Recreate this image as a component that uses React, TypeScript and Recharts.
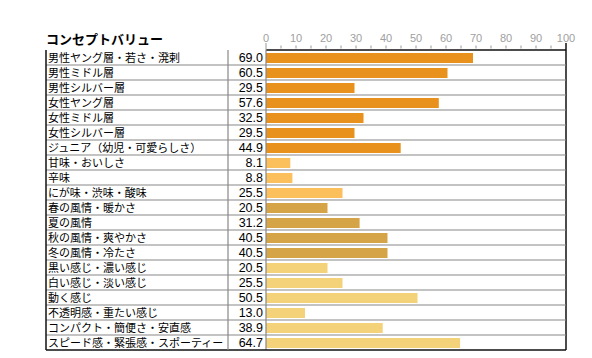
import React from "react";
import { BarChart, Bar, XAxis, YAxis, Cell, ReferenceLine } from "recharts";

const labels = [
  "男性ヤング層・若さ・溌剌",
  "男性ミドル層",
  "男性シルバー層",
  "女性ヤング層",
  "女性ミドル層",
  "女性シルバー層",
  "ジュニア（幼児・可愛らしさ）",
  "甘味・おいしさ",
  "辛味",
  "にが味・渋味・酸味",
  "春の風情・暖かさ",
  "夏の風情",
  "秋の風情・爽やかさ",
  "冬の風情・冷たさ",
  "黒い感じ・濃い感じ",
  "白い感じ・淡い感じ",
  "動く感じ",
  "不透明感・重たい感じ",
  "コンパクト・簡便さ・安直感",
  "スピード感・緊張感・スポーティー",
];
const values = [69.0, 60.5, 29.5, 57.6, 32.5, 29.5, 44.9, 8.1, 8.8, 25.5, 20.5, 31.2, 40.5, 40.5, 20.5, 25.5, 50.5, 13.0, 38.9, 64.7];
const groups = [0, 0, 0, 0, 0, 0, 0, 1, 1, 1, 2, 2, 2, 2, 3, 3, 3, 3, 3, 3];
const groupColors = ["#E8911C", "#FBBF5C", "#D4A446", "#F3D279"];
const xTicks = [0, 5, 10, 15, 20, 25, 30, 35, 40, 45, 50, 55, 60, 65, 70, 75, 80, 85, 90, 95, 100];
const title = "コンセプトバリュー";

const data = labels.map((name, i) => ({ name, value: values[i], group: groups[i] }));

const W = 592;
const H = 358;
const MARGIN = { top: 22, right: 34, bottom: 16, left: 38 };
const Y_W = 220;
const X_H = 20;
const PLOT_H = H - MARGIN.top - MARGIN.bottom - X_H;
const PLOT_W = W - MARGIN.left - MARGIN.right - Y_W;
const ROW_H = PLOT_H / labels.length;
const VAL_COL = 38;
const FONT = "'Noto Sans CJK JP', 'Noto Sans', sans-serif";
const NUM_FONT = "'Liberation Sans', Arial, sans-serif";

const YTick = (props: any) => {
  const { x, y, payload, index } = props;
  const top = y - ROW_H / 2;
  const bottom = y + ROW_H / 2;
  const left = x - Y_W;
  const last = index === labels.length - 1;
  return (
    <g>
      <line x1={left} x2={x + PLOT_W} y1={bottom} y2={bottom} stroke={last ? "#111" : "#888"} strokeWidth={last ? 1.5 : 1.2} />
      <line x1={left} x2={left} y1={top} y2={bottom} stroke="#111" strokeWidth={1.5} />
      <line x1={x - VAL_COL} x2={x - VAL_COL} y1={top} y2={bottom} stroke="#888" strokeWidth={1.2} />
      <text x={left + 2} y={y + 4} fontSize={11} fill="#000" fontFamily={FONT}>
        {payload.value}
      </text>
      <text x={x - 3} y={y + 4.5} fontSize={12.5} fill="#000" textAnchor="end" fontFamily={NUM_FONT}>
        {values[index].toFixed(1)}
      </text>
    </g>
  );
};

const XTick = (props: any) => {
  const { x, y, payload } = props;
  const v = payload.value;
  const major = v % 10 === 0;
  const edge = v === 0 || v === 100;
  return (
    <g>
      {!edge && <line x1={x} x2={x} y1={y - 4.5} y2={y - 1.5} stroke="#999" strokeWidth={1} />}
      {edge && <line x1={x} x2={x} y1={y - 7} y2={y} stroke={v === 0 ? "#999" : "#111"} strokeWidth={v === 0 ? 1 : 1.5} />}
      {major && (
        <text x={x} y={y - 8} fontSize={11} fill="#a0a0a0" textAnchor="middle" fontFamily={NUM_FONT}>
          {v}
        </text>
      )}
    </g>
  );
};

export default function App() {
  return (
    <div style={{ position: "relative", width: W, height: H }}>
      <div
        style={{
          position: "absolute",
          left: MARGIN.left,
          top: 24,
          fontSize: 13,
          fontWeight: "bold",
          lineHeight: "14px",
          fontFamily: FONT,
          color: "#000",
        }}
      >
        {title}
      </div>
      <BarChart width={W} height={H} data={data} layout="vertical" margin={MARGIN} barSize={10}>
        <XAxis
          type="number"
          orientation="top"
          domain={[0, 100]}
          ticks={xTicks}
          interval={0}
          height={X_H}
          tickSize={0}
          tickMargin={0}
          tickLine={false}
          axisLine={{ stroke: "#111", strokeWidth: 1.5 }}
          tick={<XTick />}
        />
        <YAxis
          type="category"
          dataKey="name"
          width={Y_W}
          tickSize={0}
          tickMargin={0}
          tickLine={false}
          interval={0}
          axisLine={{ stroke: "#888", strokeWidth: 1.2 }}
          tick={<YTick />}
        />
        <ReferenceLine x={100} stroke="#111" strokeWidth={1.5} />
        <Bar dataKey="value" isAnimationActive={false}>
          {data.map((d, i) => (
            <Cell key={i} fill={groupColors[d.group]} />
          ))}
        </Bar>
      </BarChart>
    </div>
  );
}
